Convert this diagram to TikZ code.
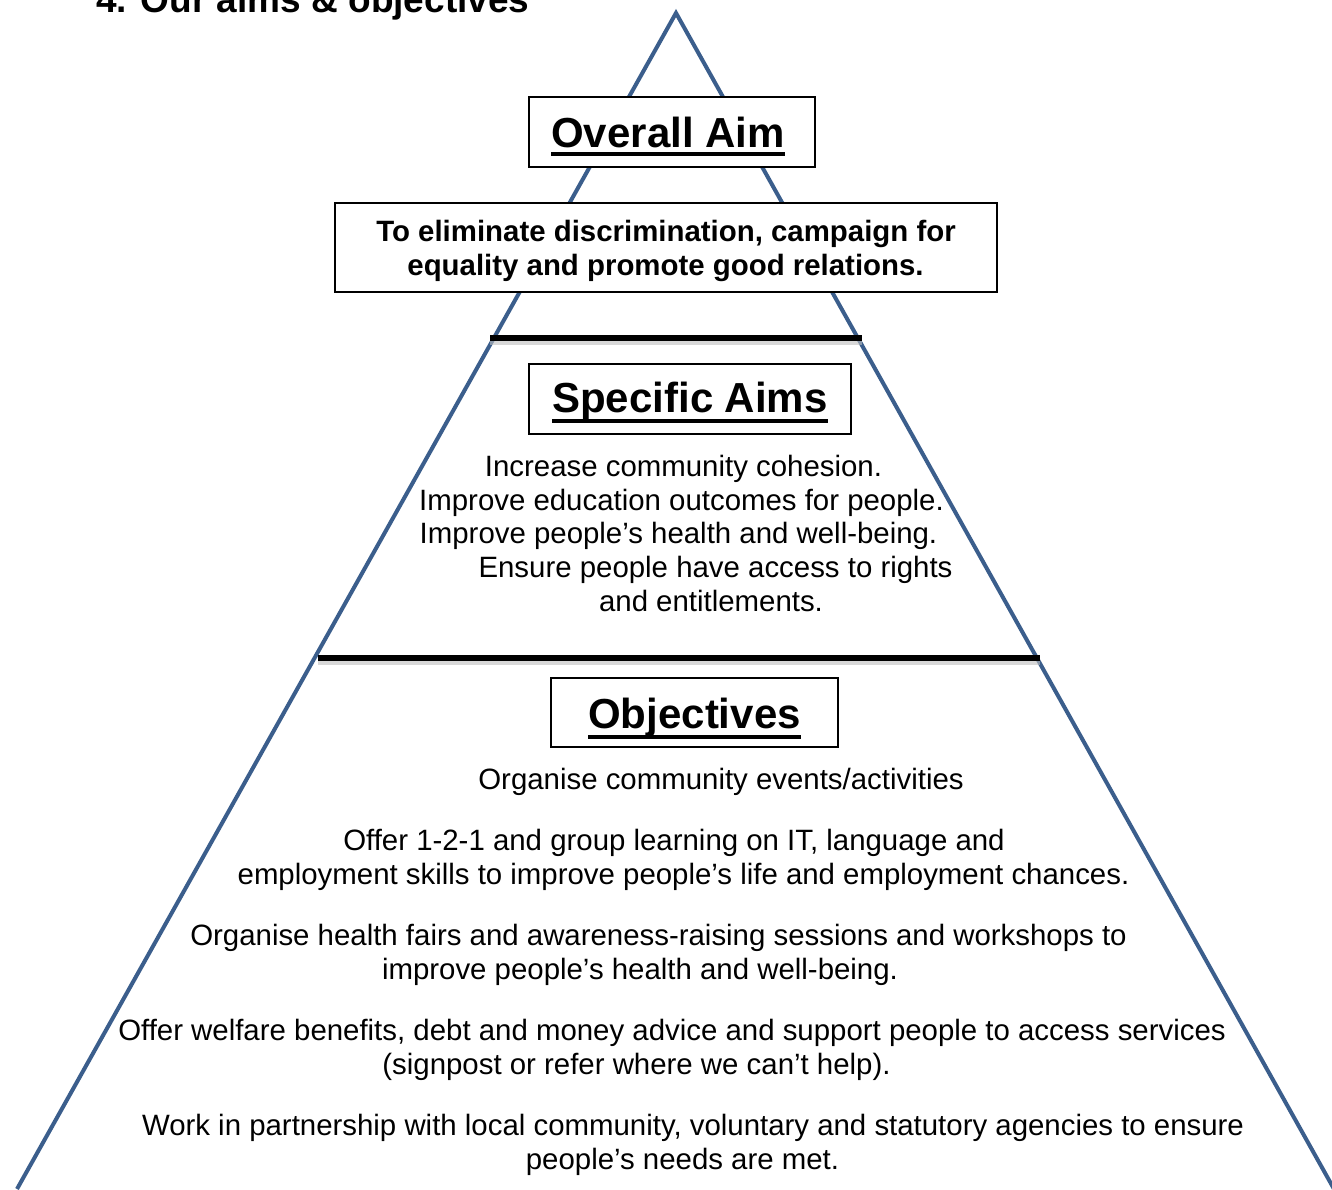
\documentclass[tikz,border=0pt]{standalone}
\usepackage{fontspec}
\setmainfont{Liberation Sans}
\definecolor{triblue}{HTML}{3B5E8C}
\tikzset{
  triline/.style={draw=triblue, line width=4pt, line join=miter},
  divider/.style={draw=black, line width=5.5pt},
  dividershadow/.style={draw=black!25, line width=5pt, opacity=0.6},
  hbox/.style={draw=black, line width=1.6pt, fill=white, inner sep=0pt},
  headtext/.style={inner sep=0pt, anchor=base, font=\fontsize{42}{48}\selectfont\bfseries},
  uline/.style={draw=black, line width=4pt},
  stmttext/.style={inner sep=0pt, anchor=base, font=\fontsize{29.4}{34}\selectfont\bfseries},
  bodytext/.style={inner sep=0pt, anchor=base, font=\fontsize{29.4}{34}\selectfont},
  titletext/.style={inner sep=0pt, anchor=base west, font=\fontsize{37}{42}\selectfont\bfseries}
}
\begin{document}
\begin{tikzpicture}[x=1pt,y=-1pt]
\useasboundingbox (0,0) rectangle (1332,1189);
\clip (0,0) rectangle (1332,1189);
\fill[white] (0,0) rectangle (1332,1189);
% title
\node[titletext] (title) at (96,12) {4. Our aims \& objectives};
% triangle
\coordinate (apex) at (676,13);
\coordinate (bl) at (17,1189);
\coordinate (br) at (1334,1189);
\draw[triline] (bl) -- (apex) -- (br);
% dividers
\coordinate (d1l) at (490,338);
\coordinate (d1r) at (862,338);
\coordinate (d2l) at (318,658);
\coordinate (d2r) at (1040,658);
\draw[dividershadow] ([yshift=-4pt]d1l) -- ([yshift=-4pt]d1r);
\draw[dividershadow] ([yshift=-4pt]d2l) -- ([yshift=-4pt]d2r);
\draw[divider] (d1l) -- (d1r);
\draw[divider] (d2l) -- (d2r);
% overall aim
\node[hbox, minimum width=286pt, minimum height=70pt] (oabox) at (672,132) {};
\node[headtext] (oatext) at (668,147) {Overall Aim};
\draw[uline] ([yshift=-7pt]oatext.base west) -- ([yshift=-7pt]oatext.base east);
\node[hbox, minimum width=662pt, minimum height=89pt] (stbox) at (666,247.5) {};
\node[stmttext] (st1) at (666,241) {To eliminate discrimination, campaign for};
\node[stmttext] (st2) at (665.5,275) {equality and promote good relations.};
% specific aims
\node[hbox, minimum width=322pt, minimum height=70pt] (sabox) at (690,399) {};
\node[headtext] (satext) at (690,412) {Specific Aims};
\draw[uline] ([yshift=-9pt]satext.base west) -- ([yshift=-9pt]satext.base east);
\node[bodytext] (sa1) at (683.5,476) {Increase community cohesion.};
\node[bodytext] (sa2) at (681.5,510) {Improve education outcomes for people.};
\node[bodytext] (sa3) at (678.5,543) {Improve people’s health and well-being.};
\node[bodytext] (sa4) at (715.5,577) {Ensure people have access to rights};
\node[bodytext] (sa5) at (711,611) {and entitlements.};
% objectives
\node[hbox, minimum width=287pt, minimum height=69pt] (obbox) at (694.5,712.5) {};
\node[headtext] (obtext) at (694.5,728) {Objectives};
\draw[uline] ([yshift=-9pt]obtext.base west) -- ([yshift=-9pt]obtext.base east);
\node[bodytext] (ob1) at (721,789) {Organise community events/activities};
\node[bodytext] (ob2) at (674,850) {Offer 1-2-1 and group learning on IT, language and};
\node[bodytext] (ob3) at (683.5,884) {employment skills to improve people’s life and employment chances.};
\node[bodytext] (ob4) at (658.5,945) {Organise health fairs and awareness-raising sessions and workshops to};
\node[bodytext] (ob5) at (640,979) {improve people’s health and well-being.};
\node[bodytext] (ob6) at (672,1040) {Offer welfare benefits, debt and money advice and support people to access services};
\node[bodytext] (ob7) at (636.5,1074) {(signpost or refer where we can’t help).};
\node[bodytext] (ob8) at (693,1135) {Work in partnership with local community, voluntary and statutory agencies to ensure};
\node[bodytext] (ob9) at (682.5,1169) {people’s needs are met.};
\end{tikzpicture}
\end{document}
